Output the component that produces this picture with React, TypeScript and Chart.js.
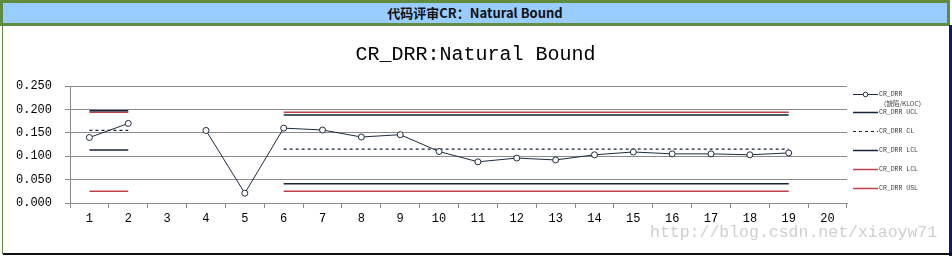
import React, { useEffect, useRef } from "react";
import { Chart, registerables } from "chart.js";

Chart.register(...registerables);

const categories = ["1", "2", "3", "4", "5", "6", "7", "8", "9", "10", "11", "12", "13", "14", "15", "16", "17", "18", "19", "20"];

const drrValues = [0.140, 0.170, null, 0.155, 0.021, 0.160, 0.156, 0.141, 0.146, 0.110, 0.088, 0.096, 0.092, 0.103, 0.109, 0.105, 0.105, 0.103, 0.107, null];
const uclValues = [0.197, 0.197, null, null, null, 0.188, 0.188, 0.188, 0.188, 0.188, 0.188, 0.188, 0.188, 0.188, 0.188, 0.188, 0.188, 0.188, 0.188, null];
const clValues = [0.155, 0.155, null, null, null, 0.115, 0.115, 0.115, 0.115, 0.115, 0.115, 0.115, 0.115, 0.115, 0.115, 0.115, 0.115, 0.115, 0.115, null];
const lclValues = [0.113, 0.113, null, null, null, 0.041, 0.041, 0.041, 0.041, 0.041, 0.041, 0.041, 0.041, 0.041, 0.041, 0.041, 0.041, 0.041, 0.041, null];
const lslValues = [0.025, 0.025, null, null, null, 0.025, 0.025, 0.025, 0.025, 0.025, 0.025, 0.025, 0.025, 0.025, 0.025, 0.025, 0.025, 0.025, 0.025, null];
const uslValues = [0.194, 0.194, null, null, null, 0.194, 0.194, 0.194, 0.194, 0.194, 0.194, 0.194, 0.194, 0.194, 0.194, 0.194, 0.194, 0.194, 0.194, null];

const seriesLabels = ["CR_DRR", "CR_DRR UCL", "CR_DRR CL", "CR_DRR LCL", "CR_DRR LCL", "CR_DRR USL"];
const seriesSubLabel = "（缺陷/KLOC）";
const yMin = 0;
const yMax = 0.25;
const yStep = 0.05;

const chartTitle = "CR_DRR:Natural Bound";
const panelTitle = "代码评审CR：Natural Bound";
const watermark = "http://blog.csdn.net/xiaoyw71";

const DARK = "#1e2b3c";
const NAVY = "#16233a";
const RED = "#c2404a";
const GRID = "#8a8a8a";

const centeredTitle = {
  id: "centeredTitle",
  afterDraw(chart: any) {
    const ctx = chart.ctx as CanvasRenderingContext2D;
    ctx.save();
    ctx.fillStyle = "#000000";
    ctx.font = "20px 'Liberation Mono', monospace";
    ctx.textAlign = "center";
    ctx.textBaseline = "middle";
    ctx.fillText(chartTitle, chart.width / 2, 28.5);
    ctx.restore();
  },
};

const sideLegend = {
  id: "sideLegend",
  afterDraw(chart: any) {
    const ctx = chart.ctx as CanvasRenderingContext2D;
    const ds = chart.data.datasets;
    ctx.save();
    ds.forEach((d: any, i: number) => {
      const y = i === 0 ? 68 : 86 + (i - 1) * 19;
      ctx.beginPath();
      ctx.strokeStyle = d.borderColor;
      ctx.lineWidth = d.borderWidth;
      ctx.setLineDash(d.borderDash || []);
      ctx.moveTo(850, y + 0.5);
      ctx.lineTo(875, y + 0.5);
      ctx.stroke();
      ctx.setLineDash([]);
      if (d.pointRadius > 0) {
        ctx.beginPath();
        ctx.arc(862.5, y + 0.5, 2.3, 0, Math.PI * 2);
        ctx.fillStyle = "#ffffff";
        ctx.fill();
        ctx.lineWidth = 1;
        ctx.strokeStyle = d.pointBorderColor;
        ctx.stroke();
      }
      ctx.fillStyle = "#404040";
      ctx.font = "6.5px 'Liberation Mono'";
      ctx.textBaseline = "middle";
      ctx.textAlign = "left";
      ctx.fillText(d.label, 876, y + 0.5);
      if (i === 0) {
        ctx.font = "6.5px 'Noto Sans CJK SC'";
        ctx.fillText(seriesSubLabel, 877, y + 9.5);
      }
    });
    ctx.restore();
  },
};

export default function App() {
  const ref = useRef<HTMLCanvasElement | null>(null);

  useEffect(() => {
    if (!ref.current) return;
    const chart = new Chart(ref.current, {
      type: "line",
      data: {
        labels: categories,
        datasets: [
          {
            label: seriesLabels[0],
            data: drrValues,
            borderColor: DARK,
            borderWidth: 1,
            pointRadius: 3,
            pointBackgroundColor: "#ffffff",
            pointBorderColor: DARK,
            pointBorderWidth: 1,
            spanGaps: false,
          },
          { label: seriesLabels[1], data: uclValues, borderColor: NAVY, borderWidth: 1.5, pointRadius: 0 },
          { label: seriesLabels[2], data: clValues, borderColor: NAVY, borderWidth: 1.2, borderDash: [3, 3], pointRadius: 0 },
          { label: seriesLabels[3], data: lclValues, borderColor: NAVY, borderWidth: 1.5, pointRadius: 0 },
          { label: seriesLabels[4], data: lslValues, borderColor: RED, borderWidth: 1.5, pointRadius: 0 },
          { label: seriesLabels[5], data: uslValues, borderColor: RED, borderWidth: 1.5, pointRadius: 0 },
        ] as any,
      },
      options: {
        animation: false,
        responsive: false,
        maintainAspectRatio: false,
        layout: { padding: { left: 0, right: 101, top: 60, bottom: 0 } },
        plugins: {
          legend: { display: false },
          tooltip: { enabled: false },
          title: { display: false },
        },
        scales: {
          x: {
            type: "category",
            offset: true,
            grid: {
              offset: true,
              drawOnChartArea: false,
              drawTicks: true,
              tickLength: 5,
              color: GRID,
            },
            border: { display: true, color: GRID, width: 1 },
            ticks: {
              color: "#000000",
              font: { family: "'Liberation Mono', monospace", size: 12 },
              padding: 4,
              maxRotation: 0,
              autoSkip: false,
            },
            afterFit(scale: any) {
              scale.height = 50;
            },
          },
          y: {
            min: yMin,
            max: yMax,
            grid: {
              color: GRID,
              drawTicks: true,
              tickLength: 5,
            },
            border: { display: true, color: GRID, width: 1 },
            ticks: {
              stepSize: yStep,
              color: "#000000",
              font: { family: "'Liberation Mono', monospace", size: 12 },
              padding: 13,
              callback: (v: any) => Number(v).toFixed(3),
            },
            afterFit(scale: any) {
              scale.width = 67;
            },
          },
        },
      } as any,
      plugins: [centeredTitle, sideLegend],
    });
    return () => chart.destroy();
  }, []);

  const GREEN = "#5f8c3e";

  return (
    <div style={{ position: "absolute", left: 0, top: 0, width: 952, height: 256, background: "#ffffff", overflow: "hidden" }}>
      <div
        style={{
          position: "absolute",
          left: 0,
          top: 0,
          width: 944,
          height: 20,
          border: `3px solid ${GREEN}`,
          background: "#99ccff",
          display: "flex",
          alignItems: "center",
          justifyContent: "center",
          fontFamily: "'Noto Sans CJK SC', sans-serif",
          fontWeight: 700,
          fontSize: 13,
          color: "#111111",
          lineHeight: "20px",
        }}
      >
        {panelTitle}
      </div>
      <div style={{ position: "absolute", left: 2, top: 26, width: 1, height: 228, background: GREEN }} />
      <div style={{ position: "absolute", left: 949, top: 25, width: 3, height: 231, background: "#0c1a70" }} />
      <div style={{ position: "absolute", left: 3, top: 253, width: 949, height: 2, background: "#111111" }} />
      <canvas ref={ref} width={945} height={227} style={{ position: "absolute", left: 3, top: 26, width: 945, height: 227 }} />
      <div
        style={{
          position: "absolute",
          left: 650,
          top: 222,
          fontFamily: "'Liberation Mono', monospace",
          fontSize: 16.5,
          color: "#cfcfcf",
          lineHeight: "22px",
          whiteSpace: "nowrap",
        }}
      >
        {watermark}
      </div>
    </div>
  );
}
